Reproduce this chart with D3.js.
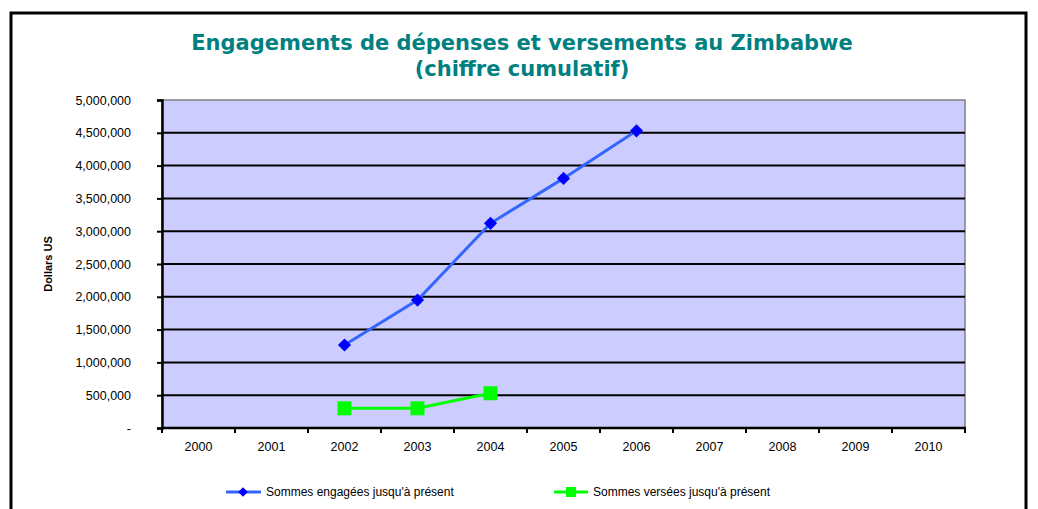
<!DOCTYPE html>
<html lang="en">
<head>
<meta charset="UTF-8">
<script src="https://d3js.org/d3.v7.min.js"></script>
<title>Engagements Zimbabwe</title>
<style>
  body { margin: 0; background: #fff; }
</style>
</head>
<body>
<div id="chart"></div>
<script>
// data
var years = ["2000", "2001", "2002", "2003", "2004", "2005", "2006", "2007", "2008", "2009", "2010"];
var engagedYears = ["2002", "2003", "2004", "2005", "2006"];
var engagedValues = [1265000, 1950000, 3120000, 3805000, 4530000];
var paidYears = ["2002", "2003", "2004"];
var paidValues = [300000, 300000, 530000];
var yTicks = [0, 500000, 1000000, 1500000, 2000000, 2500000, 3000000, 3500000, 4000000, 4500000, 5000000];

var width = 1038, height = 509;
var svg = d3.select("#chart").append("svg")
    .attr("width", width).attr("height", height);

// outer frame (bottom edge is off-picture)
svg.append("rect")
    .attr("x", 11).attr("y", 13).attr("width", 1015).attr("height", 520)
    .attr("fill", "#fff").attr("stroke", "#000").attr("stroke-width", 3);

// title
var title = svg.append("text")
    .attr("text-anchor", "middle")
    .attr("font-family", "DejaVu Sans, Verdana, sans-serif")
    .attr("font-weight", "bold").attr("font-size", "21px")
    .attr("fill", "#008080");
title.append("tspan").attr("x", 522).attr("y", 50).text("Engagements de dépenses et versements au Zimbabwe");
title.append("tspan").attr("x", 522).attr("y", 76).text("(chiffre cumulatif)");

var plotLeft = 162, plotRight = 965, plotTop = 100, plotBottom = 428;

var x = d3.scaleBand().domain(years).range([plotLeft, plotRight]);
var y = d3.scaleLinear().domain([0, 5000000]).range([plotBottom, plotTop]);

// plot area
svg.append("rect")
    .attr("x", plotLeft).attr("y", plotTop)
    .attr("width", plotRight - plotLeft).attr("height", plotBottom - plotTop)
    .attr("fill", "#CCCCFF").attr("stroke", "#808080").attr("stroke-width", 1.5);

// gridlines
svg.append("g").selectAll("line")
    .data(yTicks.filter(function (d) { return d > 0 && d < 5000000; }))
    .join("line")
    .attr("x1", plotLeft).attr("x2", plotRight)
    .attr("y1", function (d) { return y(d); }).attr("y2", function (d) { return y(d); })
    .attr("stroke", "#000").attr("stroke-width", 2);

// y axis
var fmt = d3.format(",");
var yAxis = svg.append("g")
    .attr("transform", "translate(" + plotLeft + ",0)")
    .call(d3.axisLeft(y).tickValues(yTicks).tickSize(5).tickPadding(26)
        .tickFormat(function (d) { return d === 0 ? "-" : fmt(d); }));
yAxis.select(".domain").attr("stroke", "#000").attr("stroke-width", 2.5);
yAxis.selectAll(".tick line").attr("stroke", "#000").attr("stroke-width", 2);
yAxis.selectAll("text")
    .attr("font-family", "Liberation Sans, Arial, sans-serif")
    .attr("font-size", "12.5px").attr("fill", "#000");

// x axis
var xAxis = svg.append("g")
    .attr("transform", "translate(0," + plotBottom + ")")
    .call(d3.axisBottom(x).tickSize(0).tickPadding(14));
xAxis.select(".domain").remove();
xAxis.selectAll("text")
    .attr("font-family", "Liberation Sans, Arial, sans-serif")
    .attr("font-size", "12.5px").attr("fill", "#000");
svg.append("line")
    .attr("x1", plotLeft).attr("x2", plotRight + 1).attr("y1", plotBottom).attr("y2", plotBottom)
    .attr("stroke", "#000").attr("stroke-width", 2.5);
svg.append("g").selectAll("line")
    .data(years.concat(["end"]))
    .join("line")
    .attr("x1", function (d, i) { return plotLeft + i * x.step(); })
    .attr("x2", function (d, i) { return plotLeft + i * x.step(); })
    .attr("y1", plotBottom).attr("y2", plotBottom + 5)
    .attr("stroke", "#000").attr("stroke-width", 2);

// y label
svg.append("text")
    .attr("transform", "translate(52," + ((plotTop + plotBottom) / 2) + ") rotate(-90)")
    .attr("text-anchor", "middle")
    .attr("font-family", "Liberation Sans, Arial, sans-serif")
    .attr("font-weight", "bold").attr("font-size", "11px")
    .text("Dollars US");

var cx = function (d) { return x(d) + x.bandwidth() / 2; };

// engaged series
var engaged = engagedYears.map(function (d, i) { return [d, engagedValues[i]]; });
svg.append("path")
    .datum(engaged)
    .attr("d", d3.line().x(function (d) { return cx(d[0]); }).y(function (d) { return y(d[1]); }))
    .attr("fill", "none").attr("stroke", "#3366FF").attr("stroke-width", 3);
svg.append("g").selectAll("path")
    .data(engaged)
    .join("path")
    .attr("transform", function (d) { return "translate(" + cx(d[0]) + "," + y(d[1]) + ")"; })
    .attr("d", d3.symbol().type(d3.symbolDiamond2).size(110))
    .attr("fill", "#0000FF");

// paid series
var paid = paidYears.map(function (d, i) { return [d, paidValues[i]]; });
svg.append("path")
    .datum(paid)
    .attr("d", d3.line().x(function (d) { return cx(d[0]); }).y(function (d) { return y(d[1]); }))
    .attr("fill", "none").attr("stroke", "#00FF00").attr("stroke-width", 3);
svg.append("g").selectAll("rect")
    .data(paid)
    .join("rect")
    .attr("x", function (d) { return cx(d[0]) - 7; })
    .attr("y", function (d) { return y(d[1]) - 7; })
    .attr("width", 14).attr("height", 14)
    .attr("fill", "#00FF00");

// legend
var ly = 492;
var leg1 = svg.append("g");
leg1.append("line").attr("x1", 226).attr("x2", 261).attr("y1", ly).attr("y2", ly)
    .attr("stroke", "#3366FF").attr("stroke-width", 3);
leg1.append("path").attr("transform", "translate(243," + ly + ")")
    .attr("d", d3.symbol().type(d3.symbolDiamond2).size(60)).attr("fill", "#0000FF");
leg1.append("text").attr("x", 266).attr("y", ly + 4)
    .attr("font-family", "Liberation Sans, Arial, sans-serif").attr("font-size", "12px")
    .text("Sommes engagées jusqu'à présent");

var leg2 = svg.append("g");
leg2.append("line").attr("x1", 554).attr("x2", 588).attr("y1", ly).attr("y2", ly)
    .attr("stroke", "#00FF00").attr("stroke-width", 3);
leg2.append("rect").attr("x", 566).attr("y", ly - 5).attr("width", 10).attr("height", 10)
    .attr("fill", "#00FF00");
leg2.append("text").attr("x", 593).attr("y", ly + 4)
    .attr("font-family", "Liberation Sans, Arial, sans-serif").attr("font-size", "12px")
    .text("Sommes versées jusqu'à présent");
</script>
</body>
</html>
